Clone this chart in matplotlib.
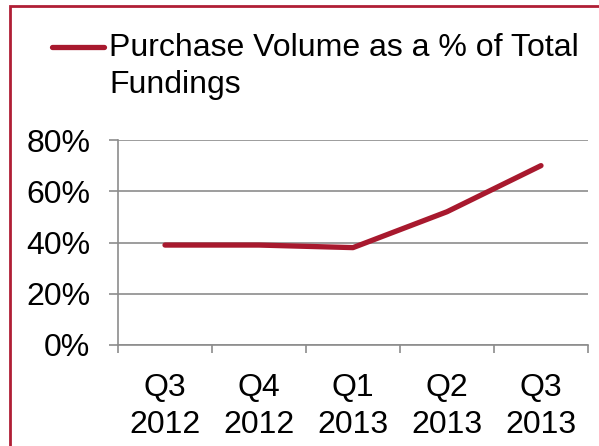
import matplotlib
matplotlib.use("Agg")
import matplotlib.pyplot as plt
from matplotlib.lines import Line2D
from matplotlib.patches import Rectangle
from matplotlib.ticker import FuncFormatter

quarters = ["Q3\n2012", "Q4\n2012", "Q1\n2013", "Q2\n2013", "Q3\n2013"]
purchase_pct = [39, 39, 38, 52, 70]
series_name = "Purchase Volume as a % of Total\nFundings"

line_color = "#A8192E"
grid_color = "#8C8C8C"
fs = 23

plt.rcParams["font.family"] = ["Liberation Sans", "DejaVu Sans"]

W, H = 599, 446
fig = plt.figure(figsize=(W / 100, H / 100), dpi=100)
ax = fig.add_axes([118 / W, 1 - 345 / H, 470 / W, 205 / H])

x = list(range(len(quarters)))
ax.plot(x, purchase_pct, color=line_color, lw=3.8, solid_capstyle="round",
        solid_joinstyle="round", zorder=3)

ax.set_xlim(-0.5, len(quarters) - 0.5)
ax.set_ylim(0, 80)
ax.set_yticks(range(0, 81, 20))
ax.yaxis.set_major_formatter(FuncFormatter(lambda v, p: f"{v:.0f}%"))
ax.grid(axis="y", color=grid_color, lw=1.2)
ax.set_axisbelow(True)

ax.set_xticks(x)
ax.set_xticklabels(quarters, linespacing=1.3)
ax.set_xticks([i - 0.5 for i in range(len(quarters) + 1)], minor=True)
ax.tick_params(axis="x", which="major", length=0, pad=20, labelsize=fs)
ax.tick_params(axis="x", which="minor", length=6, width=1.2, color=grid_color)
ax.tick_params(axis="y", length=6.5, width=1.2, color=grid_color, pad=13.5, labelsize=fs)

for side in ("top", "right"):
    ax.spines[side].set_visible(False)
for side in ("left", "bottom"):
    ax.spines[side].set_color(grid_color)
    ax.spines[side].set_linewidth(1.2)

# legend entry: short line sample beside the wrapped series name
fig.add_artist(Line2D([52 / W, 104 / W], [1 - 47 / H, 1 - 47 / H],
                      transform=fig.transFigure, color=line_color, lw=3.8,
                      solid_capstyle="round"))
fig.text(109 / W, 1 - 33 / H, series_name, fontsize=fs, ha="left", va="top",
         linespacing=1.32)

# red frame around the panel
fig.add_artist(Rectangle((10 / W, -0.2), 1.2, 1.2 - 6 / H,
                         transform=fig.transFigure, fill=False,
                         edgecolor="#B01E35", lw=2))

fig.savefig("out.png", dpi=100)
